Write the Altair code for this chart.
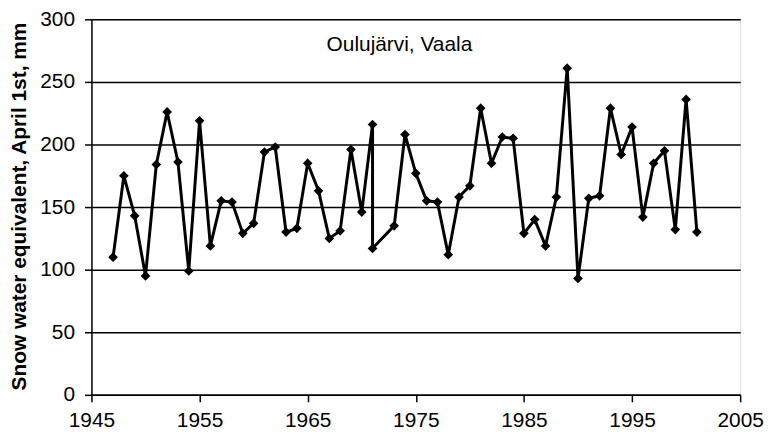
import altair as alt
import pandas as pd

years = [1947, 1948, 1949, 1950, 1951, 1952, 1953, 1954, 1955, 1956,
         1957, 1958, 1959, 1960, 1961, 1962, 1963, 1964, 1965, 1966,
         1967, 1968, 1969, 1970, 1971, 1971, 1973, 1974, 1975, 1976,
         1977, 1978, 1979, 1980, 1981, 1982, 1983, 1984, 1985, 1986,
         1987, 1988, 1989, 1990, 1991, 1992, 1993, 1994, 1995, 1996,
         1997, 1998, 1999, 2000, 2001]
swe = [110, 175, 143, 95, 184, 226, 186, 99, 219, 119,
       155, 154, 129, 137, 194, 198, 130, 133, 185, 163,
       125, 131, 196, 146, 216, 117, 135, 208, 177, 155,
       154, 112, 158, 167, 229, 185, 206, 205, 129, 140,
       119, 158, 261, 93, 157, 159, 229, 192, 214, 142,
       185, 195, 132, 236, 130]
x_ticks = [1945, 1955, 1965, 1975, 1985, 1995, 2005]
y_ticks = [0, 50, 100, 150, 200, 250, 300]
station = "Oulujärvi, Vaala"
y_title = "Snow water equivalent, April 1st, mm"

df = pd.DataFrame({"year": years, "swe": swe, "order": list(range(len(years)))})

FONT = "Liberation Sans"

x = alt.X("year:Q",
          scale=alt.Scale(domain=[1945, 2005], nice=False, zero=False),
          axis=alt.Axis(values=x_ticks, format="d", title=None, grid=False,
                        labelFontSize=21, labelFont=FONT, labelColor="black",
                        labelPadding=8, tickSize=7, tickColor="black",
                        tickWidth=1.5, domainColor="black", domainWidth=1.5,
                        labelFlush=False))
y = alt.Y("swe:Q",
          scale=alt.Scale(domain=[0, 300], nice=False),
          axis=alt.Axis(values=y_ticks, title=y_title, grid=True,
                        gridColor="black", gridWidth=1.5, gridOpacity=1,
                        labelFontSize=21, labelFont=FONT, labelColor="black",
                        labelPadding=10, tickSize=7, tickColor="black",
                        tickWidth=1.5, domainColor="black", domainWidth=1.5,
                        titleFont=FONT, titleFontSize=21, titleFontWeight="bold",
                        titleColor="black", titleAngle=-90, titleX=-66, titleY=188,
                        titleAlign="center", titleBaseline="alphabetic"))

line = alt.Chart(df).mark_line(color="black", strokeWidth=3).encode(
    x=x, y=y, order="order:Q")
pts = alt.Chart(df).mark_point(shape="diamond", filled=True, color="black",
                               size=95, opacity=1).encode(x=x, y=y)
label = alt.Chart(pd.DataFrame({"t": [station]})).mark_text(
    font=FONT, fontSize=21, color="black", align="center",
    baseline="alphabetic").encode(text="t:N", x=alt.value(310), y=alt.value(32))

chart = alt.layer(line, pts, label).properties(
    width=653, height=378,
    autosize=alt.AutoSizeParams(type="none"),
    padding={"left": 84, "top": 10, "right": 24, "bottom": 36},
).configure_view(stroke="black", strokeWidth=1.5).configure(background="white")

chart.save("out.html", embed_options={"renderer": "svg", "actions": False})
